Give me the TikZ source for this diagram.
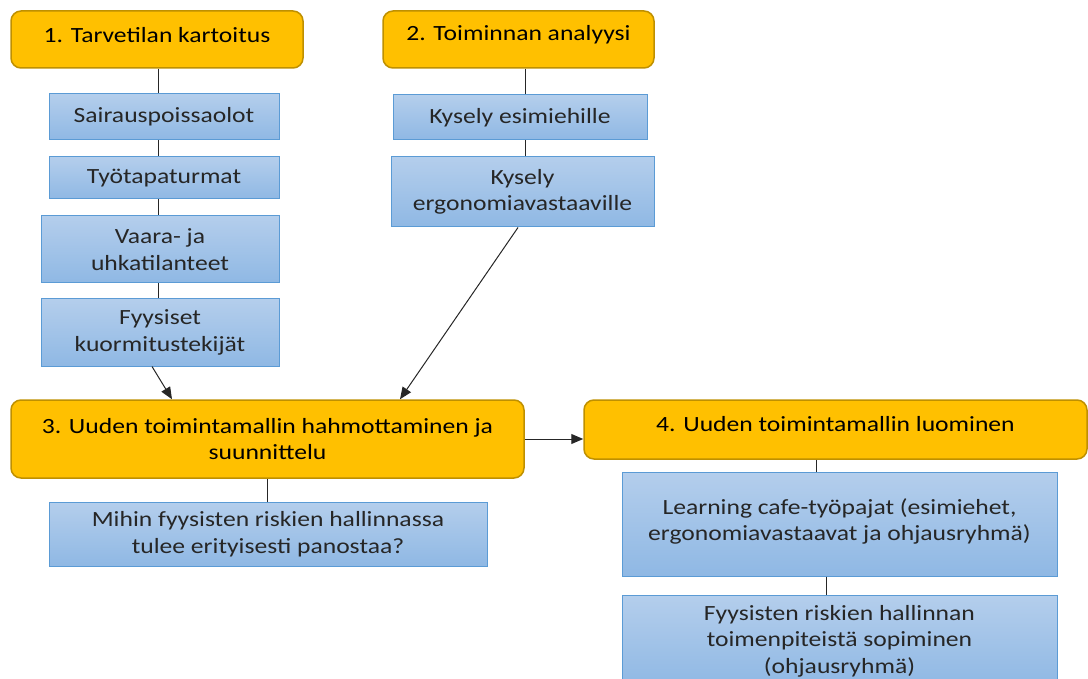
\documentclass[tikz,border=0pt]{standalone}
\usepackage{fontspec}
\setmainfont{Carlito}[FakeStretch=1.18]
\usetikzlibrary{arrows.meta,positioning}
\definecolor{ph}{RGB}{255,192,0}
\definecolor{phedge}{RGB}{191,144,0}
\definecolor{btop}{RGB}{180,206,236}
\definecolor{bbot}{RGB}{143,184,228}
\definecolor{bedge}{RGB}{91,155,213}
\definecolor{txt}{RGB}{38,38,38}

\begin{document}
\begin{tikzpicture}[
        x=1pt, y=-1pt,
        font=\fontsize{21.7}{26.5}\selectfont,
        phase/.style={rectangle, draw=phedge, line width=1.5pt, rounded corners=10pt, fill=ph, align=center, text=black, inner sep=0pt},
        item/.style={rectangle, draw=bedge, line width=1pt, top color=btop, bottom color=bbot, align=center, text=txt, inner sep=0pt},
        arr/.style={line width=1pt, draw=black!85, -{Triangle[length=12pt,width=10pt]}},
        lnk/.style={line width=1pt, draw=black!85},
    ]
        \useasboundingbox (0,0) rectangle (1088,679);
        \clip (0,0) rectangle (1088,679);

        % Phase boxes (orange), text sits a little high
        \node[phase, minimum width=292pt, minimum height=57pt, text depth=10pt] (B1) at (157, 39.5) {1. Tarvetilan kartoitus};
        \node[phase, minimum width=271pt, minimum height=57pt, text depth=13pt] (B2) at (518.5, 39.5) {2. Toiminnan analyysi};
        \node[phase, minimum width=513pt, minimum height=78pt] (B3) at (267.5, 439) {3. Uuden toimintamallin hahmottaminen ja\\suunnittelu};
        \node[phase, minimum width=503pt, minimum height=59pt, text depth=11pt] (B4) at (835.5, 429.5) {4. Uuden toimintamallin luominen};

        % Column 1 items
        \node[item, minimum width=230pt, minimum height=46pt] (S1) at (164, 117) {Sairauspoissaolot};
        \node[item, minimum width=230pt, minimum height=42pt] (S2) at (164, 178) {Työtapaturmat};
        \node[item, minimum width=238pt, minimum height=67pt] (S3) at (160, 249.5) {Vaara- ja\\uhkatilanteet};
        \node[item, minimum width=238pt, minimum height=67pt] (S4) at (160, 332.5) {Fyysiset\\kuormitustekijät};

        % Column 2 items
        \node[item, minimum width=254pt, minimum height=45pt] (K1) at (520, 117.5) {Kysely esimiehille};
        \node[item, minimum width=263pt, minimum height=70pt] (K2) at (522.5, 192) {Kysely\\ergonomiavastaaville};

        % Items under phases 3 and 4
        \node[item, minimum width=438pt, minimum height=64pt] (M1) at (268, 534) {Mihin fyysisten riskien hallinnassa\\tulee erityisesti panostaa?};
        \node[item, minimum width=435pt, minimum height=104pt, text depth=9pt] (L1) at (839.5, 524) {Learning cafe-työpajat (esimiehet,\\ergonomiavastaavat ja ohjausryhmä)};
        \node[item, minimum width=435pt, minimum height=92pt] (F1) at (839.5, 641) {Fyysisten riskien hallinnan\\toimenpiteistä sopiminen\\(ohjausryhmä)};

        % Vertical links
        \coordinate (C1) at (158, 0);
        \coordinate (C2) at (525, 0);
        \draw[lnk] (C1 |- B1.south) -- (C1 |- S1.north);
        \draw[lnk] (C1 |- S1.south) -- (C1 |- S2.north);
        \draw[lnk] (C1 |- S2.south) -- (C1 |- S3.north);
        \draw[lnk] (C1 |- S3.south) -- (C1 |- S4.north);
        \draw[lnk] (C2 |- B2.south) -- (C2 |- K1.north);
        \draw[lnk] (C2 |- K1.south) -- (C2 |- K2.north);
        \draw[lnk] (M1.north -| 267, 0) -- (267, 0 |- B3.south);
        \draw[lnk] (816, 0 |- B4.south) -- (816, 0 |- L1.north);
        \draw[lnk] (826, 0 |- L1.south) -- (826, 0 |- F1.north);

        % Arrows
        \draw[arr] ([xshift=-8pt]S4.south) -- ([xshift=-95.5pt]B3.north);
        \draw[arr] ([xshift=-4.5pt]K2.south) -- ([xshift=132.5pt]B3.north);
        \draw[arr] (B3.east) -- (B3.east -| B4.west);
\end{tikzpicture}
\end{document}
